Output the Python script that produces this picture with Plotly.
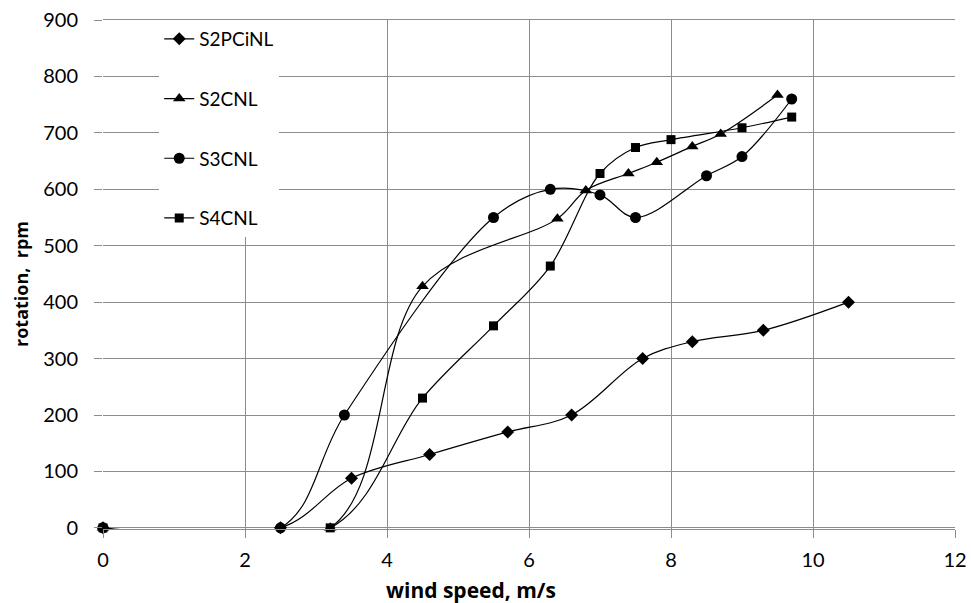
import plotly.graph_objects as go

# wind speed (m/s) and rotation (rpm)
s2pcinl_x = [0, 2.5, 3.5, 4.6, 5.7, 6.6, 7.6, 8.3, 9.3, 10.5]
s2pcinl_y = [0, 0, 88, 130, 170, 200, 300, 330, 350, 400]

s2cnl_x = [0, 3.2, 4.5, 6.4, 6.8, 7.4, 7.8, 8.3, 8.7, 9.5]
s2cnl_y = [0, 0, 428, 548, 598, 628, 648, 676, 698, 767]

s3cnl_x = [0, 2.5, 3.4, 5.5, 6.3, 7.0, 7.5, 8.5, 9.0, 9.7]
s3cnl_y = [0, 0, 200, 550, 600, 590, 550, 624, 658, 760]

s4cnl_x = [0, 3.2, 4.5, 5.5, 6.3, 7.0, 7.5, 8.0, 9.0, 9.7]
s4cnl_y = [0, 0, 230, 358, 464, 628, 674, 688, 709, 728]

series = [
    ('S2PCiNL', s2pcinl_x, s2pcinl_y, 'diamond', 10),
    ('S2CNL', s2cnl_x, s2cnl_y, 'triangle-up', 11),
    ('S3CNL', s3cnl_x, s3cnl_y, 'circle', 11),
    ('S4CNL', s4cnl_x, s4cnl_y, 'square', 9),
]

font = 'Lato, Open Sans, sans-serif'

fig = go.Figure()
for name, xs, ys, symbol, size in series:
    fig.add_trace(go.Scatter(
        x=xs, y=ys, name=name, legendgroup=name, mode='lines+markers',
        line=dict(color='black', width=1.2, shape='spline', smoothing=1),
        marker=dict(symbol=symbol, size=size, color='black'),
        cliponaxis=False,
    ))

fig.update_layout(
    width=971, height=603,
    margin=dict(l=103, r=16, t=20, b=74),
    plot_bgcolor='white', paper_bgcolor='white',
    font=dict(family=font, size=20, color='black'),
    legend=dict(x=0.066, y=1.0, xanchor='left', yanchor='top', bgcolor='white',
                tracegroupgap=32, font=dict(size=19)),
    showlegend=True,
)
# axis titles as annotations: the original places them off-centre
fig.add_annotation(text='<b>wind speed, m/s</b>', xref='paper', yref='paper',
                   x=(471 - 103) / 852, y=-(590 - 529) / 509,
                   xanchor='center', yanchor='middle', showarrow=False,
                   font=dict(family='Open Sans', size=21, color='black'))
fig.add_annotation(text='<b>rotation,  rpm</b>', xref='paper', yref='paper',
                   x=-(103 - 21) / 852, y=(529 - 284) / 509, textangle=-90,
                   xanchor='center', yanchor='middle', showarrow=False,
                   font=dict(family='Open Sans', size=18, color='black'))

fig.update_xaxes(
    range=[0, 12], dtick=2, showgrid=True, gridcolor='#8c8c8c', gridwidth=1,
    zeroline=False, ticks='outside', ticklen=8, tickcolor='#8c8c8c',
    showline=True, linecolor='#8c8c8c', mirror=True, automargin=False,
    ticklabelstandoff=5, ticklabeloverflow='allow',
)
fig.update_yaxes(
    range=[-2, 900], tickvals=list(range(0, 901, 100)), showgrid=True,
    gridcolor='#8c8c8c', gridwidth=1,
    zeroline=False, ticks='outside', ticklen=8, tickcolor='#8c8c8c',
    showline=False, automargin=False,
    ticklabelstandoff=12, ticklabeloverflow='allow',
)

fig.write_html('out.html', config={'displayModeBar': False},
               post_script="document.body.style.margin='0';")
